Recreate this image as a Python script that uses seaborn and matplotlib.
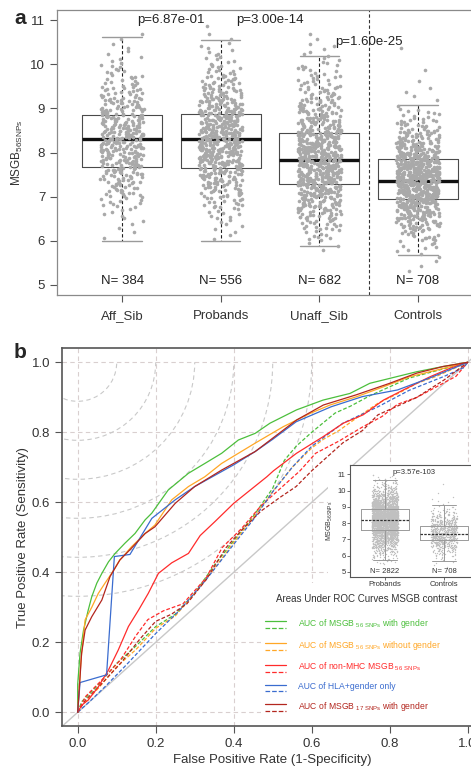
import numpy as np
import pandas as pd
import seaborn as sns
import matplotlib.pyplot as plt
from matplotlib.patches import Arc, Rectangle
from matplotlib.lines import Line2D
from matplotlib.legend_handler import HandlerBase

sns.set_style('white')
plt.rcParams['font.family'] = ['Liberation Sans', 'DejaVu Sans']
plt.rcParams['mathtext.default'] = 'regular'
np.random.seed(7)  # seaborn's strip jitter

# ---------------- panel a: MSGB(56 SNPs) per group ----------------
groups = ['Aff_Sib', 'Probands', 'Unaff_Sib', 'Controls']
group_n = [384, 556, 682, 708]
box_whislo = [6.00, 6.00, 5.89, 5.68]
box_q1 = [7.68, 7.64, 7.29, 6.95]
box_med = [8.30, 8.30, 7.82, 7.35]
box_q3 = [8.86, 8.87, 8.45, 7.85]
box_whishi = [10.62, 10.55, 10.19, 9.08]
p_labels = ['p=6.87e-01', 'p=3.00e-14', 'p=1.60e-25']

# number of points per 0.25-wide score bin (5.00-5.25 ... 10.75-11.00)
bin_lo = np.arange(5.0, 11.0, 0.25)
aff_sib_counts = [0, 0, 0, 0, 2, 3, 6, 11, 18, 26, 33, 40, 44, 45, 41, 35, 28, 20, 13, 9, 5, 3, 2, 0]
probands_counts = [0, 0, 0, 0, 3, 5, 9, 16, 26, 37, 48, 57, 63, 64, 59, 51, 40, 29, 20, 13, 8, 5, 2, 1]
unaff_sib_counts = [0, 0, 0, 3, 10, 18, 29, 42, 58, 70, 78, 77, 71, 61, 46, 36, 27, 20, 14, 10, 6, 4, 2, 0]
controls_counts = [0, 2, 3, 8, 17, 32, 53, 76, 98, 106, 98, 82, 58, 36, 20, 11, 2, 3, 1, 1, 0, 1, 0, 0]

# inset: probands (all) vs controls
inset_groups = ['Probands', 'Controls']
inset_n = [2822, 708]
inset_whislo = [5.71, 5.65]
inset_q1 = [7.56, 6.94]
inset_med = [8.18, 7.36]
inset_q3 = [8.86, 7.85]
inset_whishi = [10.65, 9.10]
all_probands_counts = [0, 0, 8, 15, 28, 47, 75, 112, 156, 203, 246, 280, 300, 296, 268, 230,
                       185, 137, 96, 63, 38, 21, 12, 6]

# ---------------- panel b: ROC curves ----------------
green_fpr = [0, 0, 0.006, 0.015, 0.027, 0.036, 0.049, 0.062, 0.079, 0.096, 0.121, 0.147, 0.173, 0.19,
             0.232, 0.284, 0.326, 0.369, 0.412, 0.455, 0.493, 0.561, 0.629, 0.698, 0.749, 0.8, 0.869, 0.937, 1.0]
green_tpr = [0, 0.08, 0.169, 0.235, 0.292, 0.33, 0.369, 0.397, 0.43, 0.454, 0.483, 0.511, 0.55, 0.569,
             0.635, 0.683, 0.711, 0.74, 0.778, 0.797, 0.826, 0.864, 0.892, 0.911, 0.94, 0.954, 0.973, 0.988, 1.0]
orange_fpr = [0, 0.004, 0.0085, 0.019, 0.036, 0.053, 0.07, 0.087, 0.108, 0.138, 0.173, 0.198, 0.241,
              0.284, 0.326, 0.369, 0.412, 0.455, 0.527, 0.596, 0.647, 0.716, 0.784, 0.852, 0.921, 1.0]
orange_tpr = [0, 0.07, 0.15, 0.264, 0.30, 0.34, 0.369, 0.397, 0.435, 0.473, 0.511, 0.535, 0.607,
              0.645, 0.673, 0.711, 0.74, 0.769, 0.816, 0.854, 0.878, 0.902, 0.93, 0.959, 0.978, 1.0]
red_fpr = [0, 0.01, 0.027, 0.053, 0.079, 0.104, 0.13, 0.156, 0.181, 0.207, 0.241, 0.284, 0.314, 0.352,
           0.4, 0.485, 0.502, 0.561, 0.63, 0.681, 0.732, 0.784, 0.835, 0.904, 0.955, 1.0]
red_tpr = [0, 0.02, 0.035, 0.073, 0.121, 0.178, 0.245, 0.292, 0.34, 0.397, 0.427, 0.454, 0.505, 0.545,
           0.597, 0.673, 0.69, 0.74, 0.788, 0.826, 0.85, 0.892, 0.921, 0.959, 0.983, 1.0]
blue_fpr = [0, 0.006, 0.074, 0.094, 0.134, 0.19, 0.25, 0.3, 0.4, 0.455, 0.5, 0.56, 0.65, 0.73, 0.82, 0.9, 1.0]
blue_tpr = [0, 0.085, 0.107, 0.445, 0.451, 0.554, 0.607, 0.645, 0.707, 0.745, 0.78, 0.83, 0.873, 0.902,
            0.921, 0.954, 1.0]
darkred_fpr = [0, 0.006, 0.01, 0.019, 0.036, 0.062, 0.083, 0.108, 0.138, 0.173, 0.198, 0.25, 0.3, 0.369,
               0.455, 0.561, 0.63, 0.714, 0.8, 0.869, 0.937, 1.0]
darkred_tpr = [0, 0.1, 0.169, 0.235, 0.273, 0.321, 0.388, 0.435, 0.469, 0.511, 0.53, 0.597, 0.645, 0.692,
               0.745, 0.835, 0.878, 0.907, 0.94, 0.969, 0.988, 1.0]

green_d_fpr = [0, 0.01, 0.05, 0.1, 0.15, 0.2, 0.25, 0.3, 0.35, 0.4, 0.45, 0.5, 0.53, 0.56, 0.6, 0.66,
               0.7, 0.75, 0.8, 0.85, 0.9, 0.95, 1.0]
green_d_tpr = [0, 0.03, 0.075, 0.14, 0.19, 0.245, 0.28, 0.34, 0.42, 0.49, 0.56, 0.64, 0.72, 0.76, 0.8,
               0.855, 0.875, 0.905, 0.93, 0.955, 0.97, 0.985, 1.0]
orange_d_fpr = [0, 0.01, 0.05, 0.1, 0.15, 0.2, 0.25, 0.3, 0.35, 0.4, 0.45, 0.5, 0.55, 0.6, 0.63, 0.67,
                0.72, 0.77, 0.82, 0.87, 0.92, 1.0]
orange_d_tpr = [0, 0.02, 0.065, 0.13, 0.18, 0.24, 0.275, 0.34, 0.41, 0.485, 0.555, 0.63, 0.7, 0.755,
                0.78, 0.805, 0.845, 0.883, 0.91, 0.94, 0.96, 1.0]
red_d_fpr = [0, 0.02, 0.06, 0.11, 0.15, 0.18, 0.22, 0.27, 0.33, 0.37, 0.42, 0.47, 0.52, 0.57, 0.61,
             0.67, 0.73, 0.78, 0.82, 0.87, 0.92, 0.97, 1.0]
red_d_tpr = [0, 0.045, 0.09, 0.15, 0.22, 0.265, 0.29, 0.31, 0.385, 0.47, 0.525, 0.59, 0.64, 0.69, 0.74,
             0.775, 0.815, 0.845, 0.88, 0.9, 0.93, 0.96, 1.0]
blue_d_fpr = [0, 0.03, 0.07, 0.12, 0.2, 0.26, 0.33, 0.4, 0.45, 0.5, 0.55, 0.6, 0.68, 0.77, 0.85, 0.94,
              0.99, 1.0]
blue_d_tpr = [0, 0.03, 0.073, 0.13, 0.225, 0.29, 0.38, 0.48, 0.55, 0.63, 0.7, 0.76, 0.826, 0.873, 0.92,
              0.96, 0.985, 1.0]
darkred_d_fpr = [0, 0.02, 0.06, 0.11, 0.16, 0.2, 0.24, 0.28, 0.33, 0.38, 0.42, 0.47, 0.52, 0.56, 0.6,
                 0.64, 0.68, 0.73, 0.77, 0.82, 0.87, 0.94, 1.0]
darkred_d_tpr = [0, 0.035, 0.08, 0.14, 0.21, 0.26, 0.28, 0.31, 0.38, 0.47, 0.52, 0.575, 0.615, 0.645,
                 0.69, 0.73, 0.77, 0.805, 0.85, 0.875, 0.9, 0.95, 1.0]

curve_colors = ['#4cbf3c', '#ffa726', '#ff2b2b', '#3a6ccf', '#b3261e']
curve_labels = [r'AUC of MSGB$_{\ 56\ SNPs}$ with gender',
                r'AUC of MSGB$_{\ 56\ SNPs}$ without gender',
                r'AUC of non-MHC MSGB$_{\ 56\ SNPs}$',
                'AUC of HLA+gender only',
                r'AUC of MSGB$_{\ 17\ SNPs}$ with gender']
legend_title = 'Areas Under ROC Curves MSGB contrast'
arc_radii = [0.1, 0.2, 0.3, 0.4, 0.5, 0.6]


def spread(counts):
    # place each bin's points evenly inside the bin
    vals = []
    for lo, n in zip(bin_lo, counts):
        vals.extend(lo + 0.25 * (np.arange(n) + 0.5) / max(n, 1))
    return vals


def box_stats(lo, q1, med, q3, hi):
    return [dict(whislo=a, q1=b, med=c, q3=d, whishi=e, fliers=[])
            for a, b, c, d, e in zip(lo, q1, med, q3, hi)]


class PairHandler(HandlerBase):
    # solid sample on top, dashed sample underneath
    def create_artists(self, legend, orig_handle, xdescent, ydescent, width, height, fontsize, trans):
        solid, dashed = orig_handle
        out = []
        for h, yy in ((solid, 0.75 * height - ydescent), (dashed, -ydescent - 1.2)):
            out.append(Line2D([-xdescent, -xdescent + width], [yy, yy], color=h.get_color(),
                              lw=h.get_linewidth(), ls=h.get_linestyle(), transform=trans))
        return out


W, H = 471, 769
fig = plt.figure(figsize=(W / 100, H / 100), dpi=100)
fig.patch.set_facecolor('white')

# ======== panel a ========
counts_a = [aff_sib_counts, probands_counts, unaff_sib_counts, controls_counts]
df_a = pd.DataFrame({'group': np.concatenate([[g] * sum(c) for g, c in zip(groups, counts_a)]),
                     'score': np.concatenate([spread(c) for c in counts_a])})

ax1 = fig.add_axes([57 / W, 1 - 295 / H, 426 / W, 285 / H])
sns.stripplot(data=df_a, x='group', y='score', order=groups, jitter=0.22, size=2.6,
              color='#a9a9a9', linewidth=0, ax=ax1, zorder=3)
ax1.bxp(box_stats(box_whislo, box_q1, box_med, box_q3, box_whishi), positions=range(4),
        widths=0.81, capwidths=0.4, showfliers=False, manage_ticks=False,
        boxprops=dict(color='#4a4a4a', lw=0.8),
        medianprops=dict(color='#111111', lw=2.4),
        whiskerprops=dict(color='#222222', lw=0.8, ls=(0, (3, 2))),
        capprops=dict(color='#9a9a9a', lw=1.0), zorder=2)
ax1.axvline(2.5, color='#333333', lw=0.8, ls=(0, (3, 2)))
for i, n in enumerate(group_n):
    ax1.text(i, 5.08, f'N= {n}', ha='center', va='center', fontsize=9.5, color='#222222')
for i, (x, y) in enumerate([(0.5, 11.0), (1.5, 11.0), (2.5, 10.51)]):
    ax1.text(x, y, p_labels[i], ha='center', va='center', fontsize=9.5, color='#222222')
ax1.set_xlim(-0.66, 3.66)
ax1.set_ylim(4.77, 11.23)
ax1.set_yticks(range(5, 12))
ax1.set_xlabel('')
ax1.set_ylabel('MSGB$_{56SNPs}$', fontsize=8.5, color='#333333')
ax1.yaxis.set_label_coords(-0.075, 0.5)
ax1.tick_params(direction='out', length=5, width=0.8, color='#555555', labelsize=9.5,
                labelcolor='#333333', left=True, bottom=True)
ax1.tick_params(axis='x', pad=6)
for s in ax1.spines.values():
    s.set_color('#8a8a8a')
    s.set_linewidth(0.9)

# ======== panel b ========
ax2 = fig.add_axes([62.1 / W, 1 - 726.3 / H, 421.2 / W, 378 / H])
ax2.set_xlim(-0.04, 1.04)
ax2.set_ylim(-0.04, 1.04)
ticks = [0, 0.2, 0.4, 0.6, 0.8, 1.0]
ax2.set_xticks(ticks)
ax2.set_yticks(ticks)
ax2.set_xticklabels([f'{t:.1f}' for t in ticks])
ax2.set_yticklabels([f'{t:.1f}' for t in ticks])
ax2.grid(True, ls=(0, (4, 3)), color='#d9cfcf', lw=0.8)
ax2.set_axisbelow(True)

# circles around the ideal corner (0, 1), round on screen
p0, p1 = ax2.transData.transform([(0, 0), (1, 1)])
ratio = (p1[0] - p0[0]) / (p1[1] - p0[1])
for r in arc_radii:
    ax2.add_patch(Arc((0, 1), 2 * r, 2 * r * ratio, theta1=180, theta2=360,
                      color='#c9c9c9', lw=0.8, ls=(0, (4, 3)), zorder=0.6))
# white area behind the legend
ax2.add_patch(Rectangle((0.47, -0.05), 0.6, 0.42, facecolor='white', edgecolor='none', zorder=0.8))
ax2.axline((0, 0), (1, 1), color='#c8c8c8', lw=1.0, zorder=1)

dash = (0, (3, 1.6))
dashed_curves = [(green_d_fpr, green_d_tpr), (orange_d_fpr, orange_d_tpr), (red_d_fpr, red_d_tpr),
                 (blue_d_fpr, blue_d_tpr), (darkred_d_fpr, darkred_d_tpr)]
solid_curves = [(green_fpr, green_tpr), (orange_fpr, orange_tpr), (red_fpr, red_tpr),
                (blue_fpr, blue_tpr), (darkred_fpr, darkred_tpr)]
for (fx, ty), c in zip(dashed_curves, curve_colors):
    sns.lineplot(x=fx, y=ty, sort=False, estimator=None, color=c, lw=0.9, ls=dash, ax=ax2)
for (fx, ty), c in zip(solid_curves, curve_colors):
    sns.lineplot(x=fx, y=ty, sort=False, estimator=None, color=c, lw=0.9, ax=ax2)

handles = [(Line2D([], [], color=c, lw=0.9), Line2D([], [], color=c, lw=0.9, ls=dash))
           for c in curve_colors]
leg = ax2.legend(handles, curve_labels, handler_map={tuple: PairHandler()},
                 loc='upper left', bbox_to_anchor=(0.480, 0.272), bbox_transform=ax2.transData,
                 borderaxespad=0, borderpad=0, frameon=False,
                 fontsize=6.2, handlelength=2.5, handleheight=0.8, handletextpad=1.3,
                 labelspacing=1.03, labelcolor=curve_colors)
ax2.text(0.742, 0.324, legend_title, ha='center', va='center', fontsize=7.0, color='#333333')

ax2.set_xlabel('False Positive Rate (1-Specificity)', fontsize=9.5, color='#333333', labelpad=3)
ax2.set_ylabel('True Positive Rate (Sensitivity)', fontsize=9.5, color='#333333', labelpad=2)
ax2.tick_params(direction='out', length=5, width=0.8, color='#555555', labelsize=9.5,
                labelcolor='#333333', left=True, bottom=True)
for s in ax2.spines.values():
    s.set_color('#555555')
    s.set_linewidth(1.2)

# ======== inset ========
bg = fig.add_axes([328 / W, 1 - 592 / H, 143 / W, 126 / H])
bg.set_xticks([])
bg.set_yticks([])
bg.set_facecolor('white')
for s in bg.spines.values():
    s.set_visible(False)

counts_in = [all_probands_counts, controls_counts]
df_in = pd.DataFrame({'group': np.concatenate([[g] * sum(c) for g, c in zip(inset_groups, counts_in)]),
                      'score': np.concatenate([spread(c) for c in counts_in])})
ax3 = fig.add_axes([350 / W, 1 - 577 / H, 129 / W, 112 / H])
sns.stripplot(data=df_in, x='group', y='score', order=inset_groups, jitter=0.22, size=1.0,
              color='#c0c0c0', linewidth=0, ax=ax3, zorder=3)
ax3.bxp(box_stats(inset_whislo, inset_q1, inset_med, inset_q3, inset_whishi), positions=range(2),
        widths=0.81, capwidths=0.4, showfliers=False, manage_ticks=False,
        boxprops=dict(color='#9a9a9a', lw=0.7),
        medianprops=dict(color='#333333', lw=0.9, ls=(0, (2, 1))),
        whiskerprops=dict(color='#9a9a9a', lw=0.7),
        capprops=dict(color='#9a9a9a', lw=0.7), zorder=4)
ax3.text(0.5, 11.08, 'p=3.57e-103', ha='center', va='center', fontsize=5.5, color='#333333')
for i, n in enumerate(inset_n):
    ax3.text(i, 5.05, f'N= {n}', ha='center', va='center', fontsize=5.5, color='#333333')
ax3.set_xlim(-0.593, 1.593)
ax3.set_ylim(4.69, 11.57)
ax3.set_yticks(range(5, 12))
ax3.set_xlabel('')
ax3.set_ylabel('MSGB$_{56SNPs}$', fontsize=5, color='#333333', labelpad=2)
ax3.tick_params(direction='out', length=2, width=0.6, color='#555555', labelsize=5.5,
                labelcolor='#333333', pad=1, left=True, bottom=True)
for s in ax3.spines.values():
    s.set_color('#555555')
    s.set_linewidth(0.8)

fig.text(20 / W, 1 - 18 / H, 'a', fontsize=15, fontweight='bold', ha='center', va='center')
fig.text(20 / W, 1 - 353 / H, 'b', fontsize=15, fontweight='bold', ha='center', va='center')

fig.savefig('out.png', dpi=100)
